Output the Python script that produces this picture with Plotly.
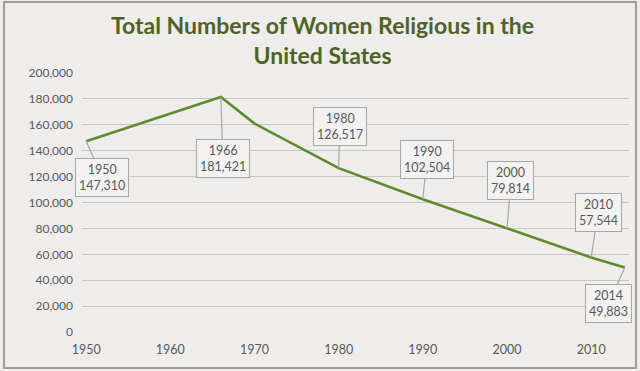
import plotly.graph_objects as go

years = [1950, 1960, 1966, 1970, 1980, 1990, 2000, 2010, 2014]
sisters = [147310, 168527, 181421, 160931, 126517, 102504, 79814, 57544, 49883]

callout_years = [1950, 1966, 1980, 1990, 2000, 2010, 2014]
callout_values = [147310, 181421, 126517, 102504, 79814, 57544, 49883]
callout_ax = [16, 2, 1, 4, 4, 7, -16]
callout_ay = [36, 61, -42, -40, -48, -45, 36]

x_ticks = [1950, 1960, 1970, 1980, 1990, 2000, 2010]
y_ticks = list(range(0, 200001, 20000))

BG = "#eeedeb"
TXT = "#595959"
FONT = "Lato, 'Open Sans', sans-serif"

fig = go.Figure()
fig.add_trace(go.Scatter(x=years, y=sisters, mode="lines",
                         line=dict(color="#5e8b2c", width=2.6),
                         hoverinfo="x+y"))

for yr, v, ax, ay in zip(callout_years, callout_values, callout_ax, callout_ay):
    fig.add_annotation(x=yr, y=v, xref="x", yref="y",
                       text=f"{yr}<br>{v:,}", showarrow=True,
                       ax=ax, ay=ay, arrowhead=0, arrowwidth=1.2,
                       arrowcolor="#a6a6a6", bordercolor="#a6a6a6",
                       borderwidth=1, borderpad=3, bgcolor="#f3f2f0",
                       font=dict(family=FONT, size=12.5, color=TXT))

fig.add_annotation(text="<b>Total Numbers of Women Religious in the<br>United States</b>",
                   xref="paper", yref="paper", x=(322 - 82) / 547, y=(332 - 9) / 259,
                   xanchor="center", yanchor="top", showarrow=False,
                   font=dict(family=FONT, size=23, color="#4f6228"))

# chart frame
fig.add_shape(type="rect", xref="paper", yref="paper",
              x0=(4 - 82) / 547, x1=(636 - 82) / 547,
              y0=(332 - 368) / 259, y1=(332 - 2) / 259,
              line=dict(color="#a09c98", width=2), fillcolor="rgba(0,0,0,0)",
              layer="below")

fig.update_layout(
    width=640, height=371,
    margin=dict(l=82, r=11, t=73, b=39),
    paper_bgcolor=BG, plot_bgcolor=BG,
    showlegend=False,
    font=dict(family=FONT, size=12, color=TXT),
    xaxis=dict(range=[1949.5, 2014.5], tickvals=x_ticks, showgrid=False,
               zeroline=False, showline=False, ticks="", ticklabelstandoff=8,
               tickfont=dict(family=FONT, size=12.5, color=TXT)),
    yaxis=dict(range=[0, 200000], tickvals=y_ticks, tickformat=",d",
               showgrid=True, gridcolor="#c8c6c3", gridwidth=1,
               zeroline=False, showline=False, ticks="", ticklabelstandoff=8,
               tickfont=dict(family=FONT, size=12, color=TXT)),
)

fig.write_html("out.html", config={"displayModeBar": False},
               post_script="document.body.style.margin='0';document.body.style.background='#eeedeb';")
